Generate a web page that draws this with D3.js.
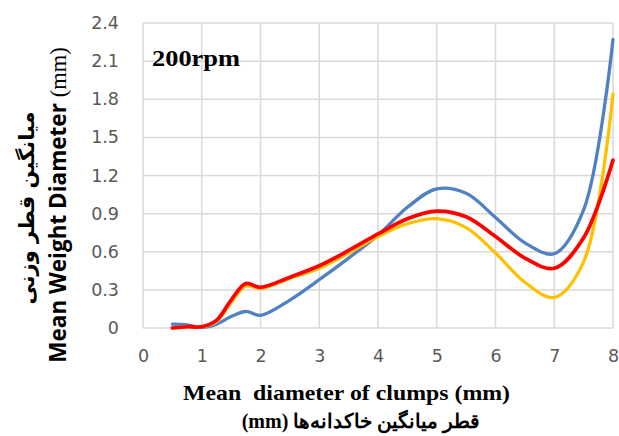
<!DOCTYPE html>
<html>
<head>
<meta charset="utf-8">
<script src="https://cdn.jsdelivr.net/npm/d3@7"></script>
<style>
  html, body { margin: 0; padding: 0; background: #fff; }
  svg { display: block; }
</style>
</head>
<body>
<svg id="chart" width="619" height="436"></svg>
<script>
// Mean diameter of clumps (mm) at which each series was sampled
const diameters = [0.5, 0.75, 1, 1.25, 1.5, 1.75, 2, 2.5, 3, 3.5, 4, 4.5, 5, 5.5, 6, 6.5, 7, 7.5, 8];
// Mean weight diameter (mm) per series
const blueSeries   = [0.03, 0.025, 0.005, 0.03, 0.09, 0.13, 0.10, 0.22, 0.38, 0.55, 0.73, 0.95, 1.095, 1.06, 0.87, 0.67, 0.585, 0.93, 2.27];
const yellowSeries = [0.00, 0.01, 0.01, 0.05, 0.20, 0.33, 0.31, 0.39, 0.47, 0.59, 0.72, 0.82, 0.86, 0.79, 0.59, 0.36, 0.24, 0.52, 1.84];
const redSeries    = [0.00, 0.01, 0.01, 0.06, 0.22, 0.35, 0.32, 0.40, 0.49, 0.61, 0.74, 0.86, 0.92, 0.875, 0.72, 0.55, 0.47, 0.71, 1.32];
const xTicks = [0, 1, 2, 3, 4, 5, 6, 7, 8];
const yTicks = [0, 0.3, 0.6, 0.9, 1.2, 1.5, 1.8, 2.1, 2.4];

const series = [
  { name: "blue",   values: blueSeries,   color: "#5081C0", width: 3.3 },
  { name: "yellow", values: yellowSeries, color: "#FFC000", width: 3.3 },
  { name: "red",    values: redSeries,    color: "#FF0000", width: 3.7 }
];

const svg = d3.select("#chart");
const margin = { left: 143, right: 6, top: 23, bottom: 108 };
const W = 619, H = 436;

const x = d3.scaleLinear().domain([0, 8]).range([margin.left, W - margin.right]);
const y = d3.scaleLinear().domain([0, 2.4]).range([H - margin.bottom, margin.top]);

// grid
const grid = svg.append("g");
grid.selectAll("line.v").data(xTicks).join("line")
  .attr("x1", d => x(d)).attr("x2", d => x(d))
  .attr("y1", y(0)).attr("y2", y(2.4))
  .attr("stroke", "#D9D9D9").attr("stroke-width", 1.5);
grid.selectAll("line.h").data(yTicks).join("line")
  .attr("x1", x(0)).attr("x2", x(8))
  .attr("y1", d => y(d)).attr("y2", d => y(d))
  .attr("stroke", "#D9D9D9").attr("stroke-width", 1.5);

// axes (labels only)
const tickFont = "'DejaVu Sans', sans-serif";
const xAxis = svg.append("g")
  .attr("transform", `translate(0,${y(0)})`)
  .call(d3.axisBottom(x).tickValues(xTicks).tickFormat(d3.format("d")).tickSize(0).tickPadding(22));
const yAxis = svg.append("g")
  .attr("transform", `translate(${x(0)},0)`)
  .call(d3.axisLeft(y).tickValues(yTicks).tickFormat(d => d === 0 ? "0" : d3.format(".1f")(d)).tickSize(0).tickPadding(24));
[xAxis, yAxis].forEach(a => {
  a.select(".domain").remove();
  a.selectAll("text").attr("fill", "#595959").style("font-family", tickFont).style("font-size", "17.5px");
});

// lines
const line = d3.line()
  .x((d, i) => x(diameters[i]))
  .y(d => y(d))
  .curve(d3.curveCatmullRom.alpha(0.5));

svg.append("g").selectAll("path").data(series).join("path")
  .attr("d", d => line(d.values))
  .attr("fill", "none")
  .attr("stroke", d => d.color)
  .attr("stroke-width", d => d.width)
  .attr("stroke-linecap", "round")
  .attr("stroke-linejoin", "round");

// speed label
svg.append("text")
  .attr("x", 152).attr("y", 66)
  .attr("textLength", 88).attr("lengthAdjust", "spacingAndGlyphs")
  .style("font-family", "'Liberation Serif', serif")
  .style("font-weight", "bold").style("font-size", "22.5px")
  .attr("fill", "#000")
  .text("200rpm");

// x-axis titles
svg.append("text")
  .attr("x", 183).attr("y", 400)
  .attr("textLength", 327).attr("lengthAdjust", "spacingAndGlyphs")
  .style("font-family", "'Liberation Serif', serif")
  .style("font-weight", "bold").style("font-size", "22px")
  .attr("xml:space", "preserve")
  .text("Mean  diameter of clumps (mm)");

svg.append("text")
  .attr("x", 361).attr("y", 428)
  .attr("text-anchor", "middle")
  .attr("direction", "rtl")
  .style("font-family", "'Liberation Serif', serif")
  .style("font-weight", "bold").style("font-size", "20px")
  .text("قطر میانگین خاکدانه‌ها (mm)");

// y-axis titles
const yTitle2 = svg.append("text")
  .attr("transform", "translate(66,205) rotate(-90)")
  .attr("text-anchor", "middle")
  .attr("fill", "#000")
  .style("font-size", "22.5px");
yTitle2.append("tspan")
  .style("font-family", "'Open Sans', sans-serif").style("font-weight", "bold")
  .text("Mean Weight Diameter ");
yTitle2.append("tspan")
  .style("font-family", "'Liberation Serif', serif")
  .text("(mm)");

svg.append("text")
  .attr("transform", "translate(34,208) rotate(-90)")
  .attr("text-anchor", "middle")
  .attr("direction", "rtl")
  .style("font-family", "'DejaVu Sans', sans-serif")
  .style("font-weight", "bold").style("font-size", "21px")
  .text("میانگین قطر وزنی");
</script>
</body>
</html>
